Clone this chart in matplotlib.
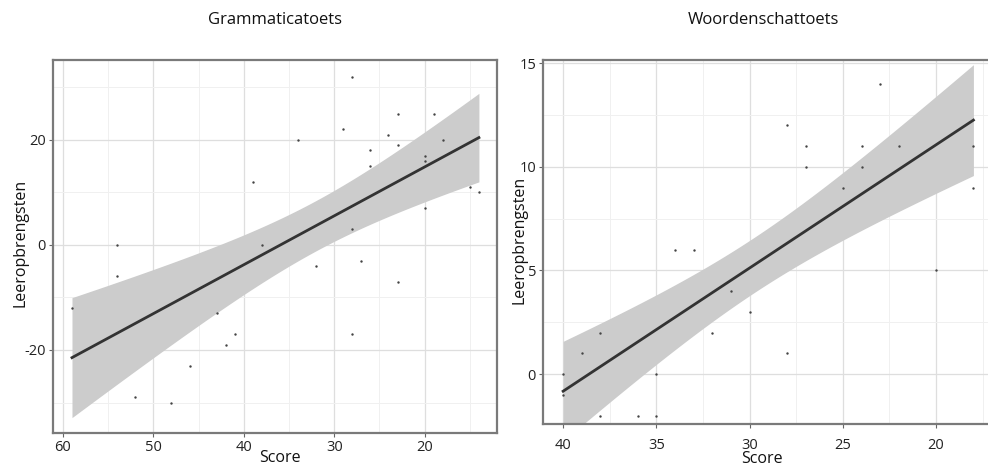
import numpy as np
import matplotlib.pyplot as plt
from matplotlib.ticker import MultipleLocator

# Grammaticatoets: score vs leeropbrengsten
gram_score = [59, 54, 54, 52, 48, 46, 43, 42, 41, 39, 38, 34, 32, 29, 28, 28, 28,
              27, 26, 26, 24, 23, 23, 23, 20, 20, 20, 19, 18, 15, 14]
gram_opbr = [-12, 0, -6, -29, -30, -23, -13, -19, -17, 12, 0, 20, -4, 22, 32, 3, -17,
             -3, 18, 15, 21, 25, 19, -7, 17, 16, 7, 25, 20, 11, 10]

# Woordenschattoets
woord_score = [40, 40, 39, 38, 38, 36, 35, 35, 34, 33, 32, 31, 30, 28, 28, 27, 27,
               25, 24, 24, 23, 22, 20, 18, 18]
woord_opbr = [0, -1, 1, 2, -2, -2, 0, -2, 6, 6, 2, 4, 3, 12, 1, 11, 10,
              9, 11, 10, 14, 11, 5, 11, 9]

# t-waarden (95%) voor df = n - 2
T_CRIT = {29: 2.045, 23: 2.069}

plt.rcParams['font.family'] = ['Open Sans', 'DejaVu Sans']
plt.rcParams['axes.unicode_minus'] = False


def lm_band(x, y):
    x = np.asarray(x, float)
    y = np.asarray(y, float)
    n = len(x)
    b, a = np.polyfit(x, y, 1)
    xs = np.linspace(x.min(), x.max(), 80)
    fit = a + b * xs
    resid = y - (a + b * x)
    s = np.sqrt(np.sum(resid ** 2) / (n - 2))
    se = s * np.sqrt(1 / n + (xs - x.mean()) ** 2 / np.sum((x - x.mean()) ** 2))
    t = T_CRIT[n - 2]
    return xs, fit, fit - t * se, fit + t * se


def panel(ax, x, y, title, xlim, ylim, xstep, ystep):
    xs, fit, lo, hi = lm_band(x, y)
    ax.fill_between(xs, lo, hi, color='#cccccc', lw=0, zorder=2)
    ax.plot(xs, fit, color='#333333', lw=2, zorder=3)
    ax.scatter(x, y, s=3, color='#444444', zorder=4, lw=0)
    ax.set_xlim(*xlim)
    ax.set_ylim(*ylim)
    ax.xaxis.set_major_locator(MultipleLocator(xstep))
    ax.xaxis.set_minor_locator(MultipleLocator(xstep / 2))
    ax.yaxis.set_major_locator(MultipleLocator(ystep))
    ax.yaxis.set_minor_locator(MultipleLocator(ystep / 2))
    ax.grid(which='major', color='#dedede', lw=0.9, zorder=0)
    ax.grid(which='minor', color='#f0f0f0', lw=0.7, zorder=0)
    ax.set_axisbelow(True)
    for sp in ax.spines.values():
        sp.set_color('#7a7a7a')
        sp.set_linewidth(1.6)
    ax.tick_params(which='major', length=3, color='#666666', labelsize=10.5,
                   labelcolor='#222222', pad=2)
    ax.tick_params(which='minor', length=0)
    ax.set_title(title, fontsize=12, pad=26, color='#111111')


fig = plt.figure(figsize=(9.88, 4.66), dpi=100)
W, H = 988, 466
ax1 = fig.add_axes([53 / W, 1 - 433 / H, 444 / W, 373 / H])
ax2 = fig.add_axes([543 / W, 1 - 424 / H, 450 / W, 364 / H])

panel(ax1, gram_score, gram_opbr, 'Grammaticatoets', (61.1, 12.0), (-35.8, 35.2), 10, 20)
panel(ax2, woord_score, woord_opbr, 'Woordenschattoets', (41.08, 16.95), (-2.41, 15.16), 5, 5)
ax2.set_title('Woordenschattoets', fontsize=12, pad=26, color='#111111', x=0.5 - 5 / 450)
ax2.tick_params(axis='x', pad=7)

# as-labels
fig.text(280 / W, 1 - 458 / H, 'Score', fontsize=11.5, color='#111111', ha='center', va='center')
fig.text(762 / W, 1 - 459 / H, 'Score', fontsize=11.5, color='#111111', ha='center', va='center')
fig.text(21 / W, 1 - 243 / H, 'Leeropbrengsten', fontsize=11.5, color='#111111',
         rotation=90, ha='center', va='center')
fig.text(519 / W, 1 - 240 / H, 'Leeropbrengsten', fontsize=11.5, color='#111111',
         rotation=90, ha='center', va='center')

fig.savefig('out.png', dpi=100)
